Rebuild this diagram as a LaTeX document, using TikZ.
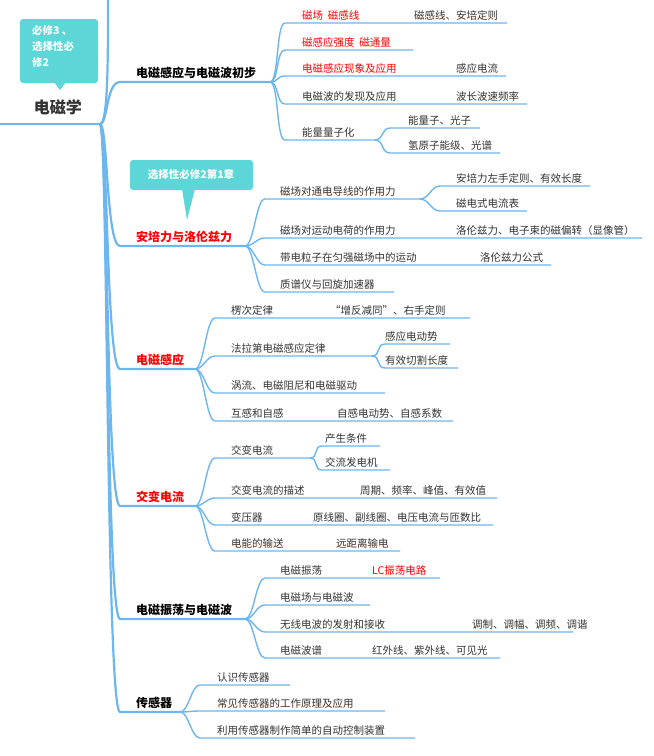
\documentclass[tikz,border=0pt]{standalone}
\usepackage{fontspec}
\setmainfont{Noto Sans CJK SC}
\begin{document}
\begin{tikzpicture}[x=1pt,y=-1pt,
  sub/.style={draw=lineblue,line width=1.4pt},
  mainln/.style={draw=lineblue,line width=2.2pt},
  txt/.style={anchor=south west,inner sep=1pt,text=txtgray,font=\fontsize{10.5}{12}\selectfont},
  red/.style={text=red},
  mtxt/.style={anchor=south west,inner sep=1pt,font=\fontsize{12}{14}\selectfont\bfseries},
  callout/.style={fill=teal1,draw=none}]
\definecolor{lineblue}{HTML}{6DB6EE}
\definecolor{txtgray}{HTML}{333333}
\definecolor{teal1}{HTML}{5CD6D6}
\useasboundingbox (0,0) rectangle (654,756);
\newcommand\brl[5]{\draw[sub] (#1,#2) .. controls ({#1+9},#2) and ({#3-9},#4) .. (#3,#4) -- (#5,#4);}
\newcommand\mbr[3]{\draw[mainln] (100,124) .. controls (108,124) and (106,#1) .. (#2,#1) -- (#3,#1);}
% root
\draw[mainln] (0,124) -- (100,124);
\draw[mainln] (100,124) .. controls (108,124) and (108,60) .. (108,0);
\node[anchor=center,font=\fontsize{16}{18}\selectfont\bfseries,text=txtgray] (root) at (58,107) {电磁学};
\fill[callout,rounded corners=3pt] (20,19) rectangle (98,83);
\fill[callout] (54,82) -- (60,90) -- (66,82) -- cycle;
\node[anchor=north west,align=left,text=white,font=\fontsize{10.5}{16}\selectfont\bfseries,inner sep=0pt] (c1) at (32,25) {必修3 、\\选择性必\\修2};
\fill[callout,rounded corners=3pt] (130,160) rectangle (253,190);
\fill[callout] (182,189) -- (187,220) -- (195,189) -- cycle;
\node[text=white,font=\fontsize{10.5}{12}\selectfont\bfseries] (c2) at (191,175) {选择性必修2第1章};
% main branches
\mbr{82}{120}{270}
\mbr{246}{120}{245}
\mbr{369}{120}{195}
\mbr{506}{120}{195}
\mbr{619}{120}{245}
\mbr{712}{120}{180}
\node[mtxt] (b1) at (135,80) {电磁感应与电磁波初步};
\node[mtxt,text=red] (b2) at (135,244) {安培力与洛伦兹力};
\node[mtxt,text=red] (b3) at (135,367) {电磁感应};
\node[mtxt,text=red] (b4) at (135,504) {交变电流};
\node[mtxt] (b5) at (135,617) {电磁振荡与电磁波};
\node[mtxt] (b6) at (135,710) {传感器};
% branch 1
\brl{270}{82}{285}{23}{507}
\brl{270}{82}{285}{50}{413}
\brl{270}{82}{285}{76}{506}
\brl{270}{82}{285}{104}{527}
\brl{270}{82}{285}{140}{375}
\brl{375}{140}{390}{128}{480}
\brl{375}{140}{390}{153}{500}
\node[txt,red] at (301,22) {磁场\ \ 磁感线};
\node[txt] at (413,22) {磁感线、安培定则};
\node[txt,red] at (301,49) {磁感应强度\ \ 磁通量};
\node[txt,red] at (301,75) {电磁感应现象及应用};
\node[txt] at (455,75) {感应电流};
\node[txt] at (301,103) {电磁波的发现及应用};
\node[txt] at (455,103) {波长波速频率};
\node[txt] at (301,139) {能量量子化};
\node[txt] at (407,127) {能量子、光子};
\node[txt] at (407,152) {氢原子能级、光谱};
% branch 2
\brl{245}{246}{265}{199}{420}
\brl{420}{199}{440}{186}{590}
\brl{420}{199}{440}{211}{527}
\brl{245}{246}{265}{238}{642}
\brl{245}{246}{265}{265}{551}
\brl{245}{246}{265}{292}{394}
\node[txt] at (279,198) {磁场对通电导线的作用力};
\node[txt] at (455,185) {安培力左手定则、有效长度};
\node[txt] at (455,210) {磁电式电流表};
\node[txt] at (279,237) {磁场对运动电荷的作用力};
\node[txt] at (455,237) {洛伦兹力、电子束的磁偏转（显像管）};
\node[txt] at (279,264) {带电粒子在匀强磁场中的运动};
\node[txt] at (479,264) {洛伦兹力公式};
\node[txt] at (279,291) {质谱仪与回旋加速器};
% branch 3
\brl{195}{369}{215}{318}{470}
\brl{195}{369}{215}{356}{372}
\brl{372}{356}{385}{344}{450}
\brl{372}{356}{385}{368}{458}
\brl{195}{369}{215}{393}{385}
\brl{195}{369}{215}{421}{453}
\node[txt] at (230,317) {楞次定律};
\node[txt] at (329,317) {“增反减同”、右手定则};
\node[txt] at (230,355) {法拉第电磁感应定律};
\node[txt] at (384,343) {感应电动势};
\node[txt] at (384,367) {有效切割长度};
\node[txt] at (230,392) {涡流、电磁阻尼和电磁驱动};
\node[txt] at (230,420) {互感和自感};
\node[txt] at (336,420) {自感电动势、自感系数};
% branch 4
\brl{195}{506}{215}{458}{310}
\brl{310}{458}{322}{446}{380}
\brl{310}{458}{322}{470}{390}
\brl{195}{506}{215}{498}{497}
\brl{195}{506}{215}{525}{493}
\brl{195}{506}{215}{551}{400}
\node[txt] at (230,457) {交变电流};
\node[txt] at (324,445) {产生条件};
\node[txt] at (324,469) {交流发电机};
\node[txt] at (230,497) {交变电流的描述};
\node[txt] at (359,497) {周期、频率、峰值、有效值};
\node[txt] at (230,524) {变压器};
\node[txt] at (312,524) {原线圈、副线圈、电压电流与匝数比};
\node[txt] at (230,550) {电能的输送};
\node[txt] at (335,550) {远距离输电};
% branch 5
\brl{245}{619}{265}{578}{440}
\brl{245}{619}{265}{605}{370}
\brl{245}{619}{265}{632}{573}
\brl{245}{619}{265}{658}{500}
\node[txt] at (279,577) {电磁振荡};
\node[txt,red] at (371,577) {LC振荡电路};
\node[txt] at (279,604) {电磁场与电磁波};
\node[txt] at (279,631) {无线电波的发射和接收};
\node[txt] at (471,631) {调制、调幅、调频、调谐};
\node[txt] at (279,657) {电磁波谱};
\node[txt] at (371,657) {红外线、紫外线、可见光};
% branch 6
\brl{180}{712}{200}{685}{290}
\brl{180}{712}{200}{711}{385}
\brl{180}{712}{200}{738}{415}
\node[txt] at (216,684) {认识传感器};
\node[txt] at (216,710) {常见传感器的工作原理及应用};
\node[txt] at (216,737) {利用传感器制作简单的自动控制装置};
\end{tikzpicture}
\end{document}
